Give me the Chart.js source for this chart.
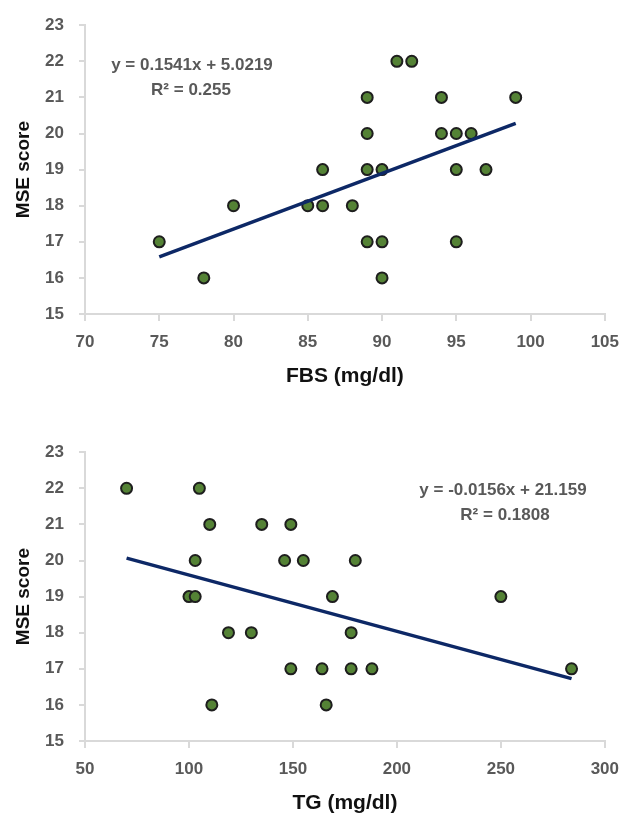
<!DOCTYPE html>
<html>
<head>
<meta charset="utf-8">
<script src="https://cdn.jsdelivr.net/npm/chart.js@4"></script>
<style>
    body { margin: 0; background: #fff; }
    #wrap { position: relative; width: 630px; height: 819px; overflow: hidden; }
    canvas { position: absolute; left: 0; }
</style>
</head>
<body>
<div id="wrap">
    <canvas id="fbsChart" width="630" height="392" style="top:0"></canvas>
    <canvas id="tgChart" width="630" height="392" style="top:427px"></canvas>
</div>
<script>
// FBS vs MSE score
const fbsValues = [75, 78, 80, 85, 86, 86, 88, 89, 89, 89, 89, 90, 90, 90, 91, 92, 94, 94, 95, 95, 95, 96, 97, 99];
const fbsScores = [17, 16, 18, 18, 18, 19, 18, 21, 20, 19, 17, 19, 17, 16, 22, 22, 21, 20, 20, 19, 17, 20, 19, 21];
const fbsFit = [0.1541, 5.0219];
const fbsTicks = [70, 105, 5];

// TG vs MSE score
const tgValues = [70, 105, 110, 135, 149, 103, 146, 155, 180, 100, 103, 169, 250, 119, 130, 178, 149, 164, 178, 188, 284, 111, 166];
const tgScores = [22, 22, 21, 21, 21, 20, 20, 20, 20, 19, 19, 19, 19, 18, 18, 18, 17, 17, 17, 17, 17, 16, 16];
const tgFit = [-0.0156, 21.159];
const tgTicks = [50, 300, 50];

const scoreTicks = [15, 23, 1];

const FONT = "'Liberation Sans', Arial, sans-serif";
const GREY = '#595959';
const AXIS = '#d9d9d9';

const eqPlugin = {
    id: 'eqText',
    afterDraw(chart, args, opts) {
        const ctx = chart.ctx;
        ctx.save();
        ctx.font = 'bold 17px ' + FONT;
        ctx.fillStyle = GREY;
        ctx.textAlign = 'center';
        ctx.textBaseline = 'middle';
        opts.lines.forEach(function (l) {
            ctx.fillText(l.text, l.x, l.y);
        });
        ctx.restore();
    }
};

const makeChart = function (id, xs, ys, fit, xTicks, xTitle, eqLines) {
    const points = xs.map(function (x, i) { return {x: x, y: ys[i]}; });
    const lo = Math.min.apply(null, xs);
    const hi = Math.max.apply(null, xs);
    const trend = [lo, hi].map(function (x) { return {x: x, y: fit[0] * x + fit[1]}; });

    return new Chart(document.getElementById(id).getContext('2d'), {
        type: 'scatter',
        data: {
            datasets: [{
                data: trend,
                showLine: true,
                borderColor: '#0d2866',
                borderWidth: 3.5,
                pointRadius: 0,
                order: 0,
            }, {
                data: points,
                pointRadius: 5.5,
                pointBackgroundColor: '#548235',
                pointBorderColor: '#1e1e1e',
                pointBorderWidth: 2,
                order: 1,
            }]
        },
        options: {
            responsive: false,
            animation: false,
            layout: {padding: {left: 0, top: 19, right: 23, bottom: 0}},
            plugins: {
                legend: {display: false},
                tooltip: {enabled: false},
                eqText: {lines: eqLines},
            },
            scales: {
                x: {
                    type: 'linear',
                    min: xTicks[0],
                    max: xTicks[1],
                    afterFit: function (s) { s.height = 78; },
                    ticks: {stepSize: xTicks[2], color: GREY, padding: 11, font: {family: FONT, size: 17, weight: 'bold'}},
                    grid: {drawOnChartArea: false, color: AXIS, lineWidth: 2, tickLength: 7},
                    border: {color: AXIS, width: 2},
                    title: {display: true, text: xTitle, color: '#111', padding: {top: 0, bottom: 3}, font: {family: FONT, size: 21, weight: 'bold'}},
                },
                y: {
                    min: scoreTicks[0],
                    max: scoreTicks[1],
                    afterFit: function (s) { s.width = 85; },
                    ticks: {stepSize: scoreTicks[2], color: GREY, padding: 15, font: {family: FONT, size: 17, weight: 'bold'}},
                    grid: {drawOnChartArea: false, color: AXIS, lineWidth: 2, tickLength: 6},
                    border: {color: AXIS, width: 2},
                    title: {display: true, text: 'MSE score', color: '#111', padding: {top: 12, bottom: 0}, font: {family: FONT, size: 19, weight: 'bold'}},
                }
            }
        },
        plugins: [eqPlugin]
    });
}

makeChart('fbsChart', fbsValues, fbsScores, fbsFit, fbsTicks, 'FBS (mg/dl)', [
    {text: 'y = 0.1541x + 5.0219', x: 192, y: 65},
    {text: 'R² = 0.255', x: 191, y: 90},
]);
makeChart('tgChart', tgValues, tgScores, tgFit, tgTicks, 'TG (mg/dl)', [
    {text: 'y = -0.0156x + 21.159', x: 503, y: 63},
    {text: 'R² = 0.1808', x: 505, y: 88},
]);
</script>
</body>
</html>
